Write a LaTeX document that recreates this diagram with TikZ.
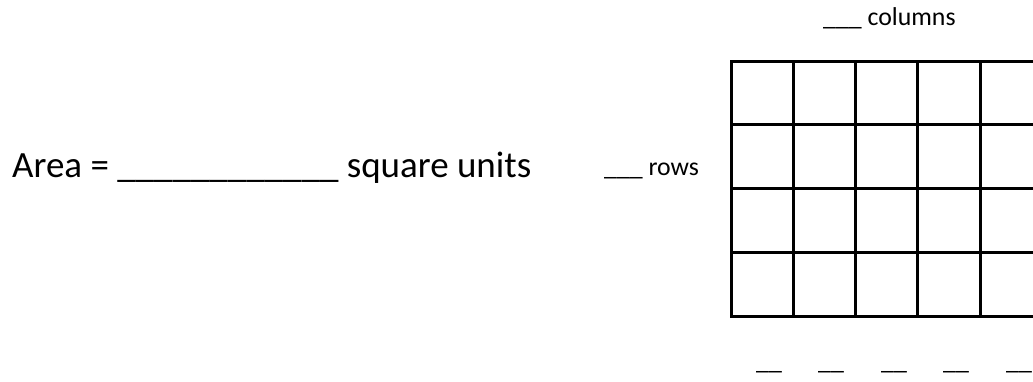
\documentclass[tikz,border=0pt]{standalone}
\usepackage{fontspec}
\setmainfont{Carlito}
\begin{document}
\begin{tikzpicture}[x=1pt,y=-1pt,
  big/.style={anchor=base west,inner sep=0pt,font=\fontsize{37}{40}\selectfont},
  small/.style={anchor=base west,inner sep=0pt,font=\fontsize{25.8}{28}\selectfont},
  gridline/.style={line width=3pt,line cap=rect}]
\useasboundingbox (0,0) rectangle (1033,381);
\fill[white] (0,0) rectangle (1033,381);
\begin{scope}
\clip (0,0) rectangle (1033,381);
% grid
\foreach \i in {0,...,5} {
  \draw[gridline] (731+62.3*\i,61) -- (731+62.3*\i,316);
}
\foreach \j in {0,...,4} {
  \draw[gridline] (731,61+63.75*\j) -- (1045,61+63.75*\j);
}
\end{scope}
\node[big] (area) at (12,177) {Area = \_\_\_\_\_\_\_\_\_\_\_\_ square units};
\node[small] (rows) at (604,175) {\_\_\_ rows};
\node[small] (cols) at (823,25) {\_\_\_ columns};
\foreach \k/\xx in {1/756,2/818,3/881,4/943,5/1006} {
  \node[small] (u\k) at (\xx,369) {\_\_};
}
\end{tikzpicture}
\end{document}
